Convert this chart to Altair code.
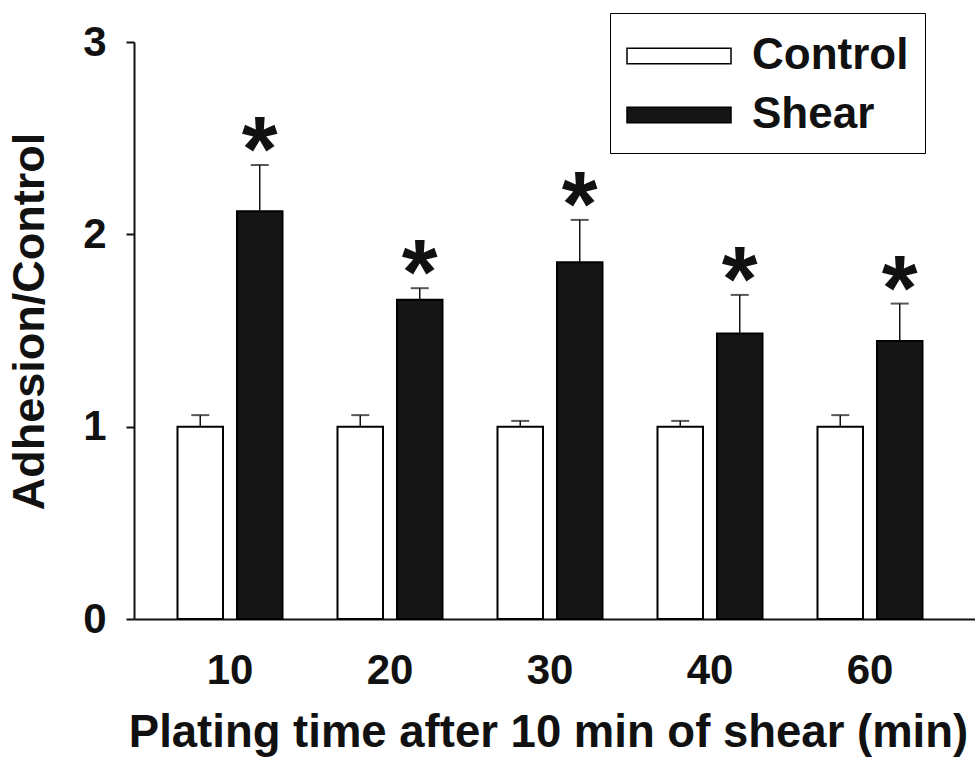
import altair as alt
import pandas as pd

# Adhesion relative to static control, by plating time after 10 min of shear
times = ["10", "20", "30", "40", "60"]
groups = ["Control", "Shear"]
control_mean = [1.0, 1.0, 1.0, 1.0, 1.0]
control_sem = [0.06, 0.06, 0.03, 0.03, 0.06]
shear_mean = [2.12, 1.66, 1.855, 1.485, 1.445]
shear_sem = [0.24, 0.06, 0.22, 0.20, 0.195]
shear_flag = ["*", "*", "*", "*", "*"]

rows = []
for i, t in enumerate(times):
    rows.append({"time": t, "group": "Control", "mean": control_mean[i],
                 "upper": control_mean[i] + control_sem[i], "flag": ""})
    rows.append({"time": t, "group": "Shear", "mean": shear_mean[i],
                 "upper": shear_mean[i] + shear_sem[i], "flag": shear_flag[i]})
df = pd.DataFrame(rows)

FONT = "Liberation Sans"
INK = "#111111"

x = alt.X(
    "time:N",
    sort=times,
    scale=alt.Scale(paddingInner=0.34375, paddingOuter=0.3, align=0.453),
    axis=alt.Axis(
        title="Plating time after 10 min of shear (min)",
        labelAngle=0,
        ticks=False,
        tickSize=0,
        labelPadding=64,
        labelBaseline="alphabetic",
        labelFont=FONT,
        labelFontSize=42,
        labelFontWeight="bold",
        labelColor=INK,
        titleFont=FONT,
        titleFontSize=45.5,
        titleFontWeight="bold",
        titleColor=INK,
        titleX=414,
        titleY=127,
        titleAlign="center",
        titleBaseline="alphabetic",
        domainColor=INK,
        domainWidth=2,
    ),
)
xoff = alt.XOffset("group:N", sort=groups,
                   scale=alt.Scale(paddingInner=0.235, paddingOuter=0))

y_axis = alt.Axis(
    title="Adhesion/Control",
    values=[0, 1, 2, 3],
    format="d",
    grid=False,
    tickSize=8,
    tickWidth=2,
    tickColor=INK,
    domainColor=INK,
    domainWidth=2,
    labelPadding=20,
    labelFlush=False,
    labelOverlap=False,
    labelFont=FONT,
    labelFontSize=42,
    labelFontWeight="bold",
    labelColor=INK,
    titleFont=FONT,
    titleFontSize=45,
    titleFontWeight="bold",
    titleColor=INK,
    titleAngle=270,
    titleX=-91,
    titleY=279,
    titleAlign="center",
    titleBaseline="alphabetic",
)
y_scale = alt.Scale(domain=[0, 3], nice=False, zero=True)

# wide, flat swatch drawn from a custom symbol path (extends to the right of its anchor)
SWATCH = "M-1,-0.3H3V0.3H-1Z"

bars = alt.Chart(df).mark_bar(stroke="black", strokeWidth=2).encode(
    x=x,
    xOffset=xoff,
    y=alt.Y("mean:Q", scale=y_scale, axis=y_axis),
    fill=alt.Fill(
        "group:N",
        sort=groups,
        scale=alt.Scale(domain=groups, range=["white", "#151515"]),
        legend=alt.Legend(
            title=None,
            orient="none",
            legendX=476,
            legendY=-29,
            symbolType=SWATCH,
            symbolSize=2704,
            symbolStrokeColor="black",
            symbolStrokeWidth=1.5,
            labelFont=FONT,
            labelFontSize=44,
            labelFontWeight="bold",
            labelColor=INK,
            labelOffset=72,
            strokeColor="black",
            fillColor="white",
            padding=16,
            rowPadding=10,
        ),
    ),
)

stems = alt.Chart(df).mark_rule(color=INK, strokeWidth=1.5).encode(
    x=x, xOffset=xoff, y=alt.Y("mean:Q", scale=y_scale), y2="upper:Q"
)

caps = alt.Chart(df).mark_tick(orient="horizontal", size=18, thickness=2, color=INK).encode(
    x=x, xOffset=xoff, y=alt.Y("upper:Q", scale=y_scale)
)

stars = alt.Chart(df).mark_text(
    font=FONT, fontSize=92, fontWeight="bold", baseline="alphabetic", dy=16, color=INK
).encode(
    x=x, xOffset=xoff, y=alt.Y("upper:Q", scale=y_scale), text="flag:N"
)

chart = (
    alt.layer(bars, stems, caps, stars)
    .properties(
        width=841,
        height=577,
        autosize=alt.AutoSizeParams(type="none"),
        padding={"left": 134, "top": 42, "right": 0, "bottom": 142},
        background="white",
    )
    .configure_view(stroke=None)
)

chart.save("out.html", embed_options={"renderer": "svg", "actions": False})
